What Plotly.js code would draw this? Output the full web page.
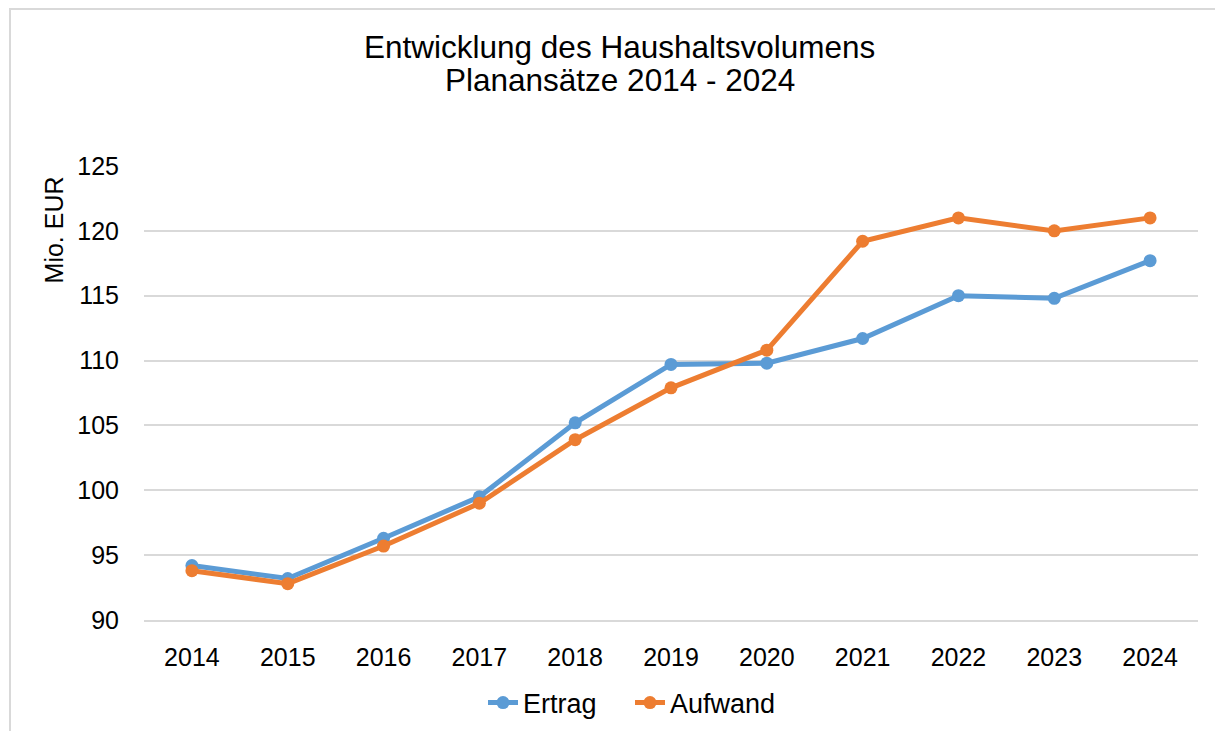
<!DOCTYPE html>
<html>
<head>
<meta charset="utf-8">
<script src="https://cdn.plot.ly/plotly-3.0.1.min.js"></script>
<style>
  html, body { margin: 0; padding: 0; background: #ffffff; }
  #chart { width: 1215px; height: 731px; position: relative; }
  #frame { position: absolute; left: 9px; top: 8px; width: 1220px; height: 740px;
           border: 2px solid #d9d9d9; pointer-events: none; box-sizing: border-box; }
  #wrap { position: relative; width: 1215px; height: 731px; overflow: hidden; }
</style>
</head>
<body>
<div id="wrap">
  <div id="chart"></div>
  <div id="frame"></div>
</div>
<script>
const years = ['2014','2015','2016','2017','2018','2019','2020','2021','2022','2023','2024'];
const ertrag = [94.2, 93.2, 96.3, 99.5, 105.2, 109.7, 109.8, 111.7, 115.0, 114.8, 117.7];
const aufwand = [93.8, 92.8, 95.7, 99.0, 103.9, 107.9, 110.8, 119.2, 121.0, 120.0, 121.0];
const yTicks = [90, 95, 100, 105, 110, 115, 120, 125];
const titleLine1 = 'Entwicklung des Haushaltsvolumens';
const titleLine2 = 'Planansätze 2014 - 2024';

const font = 'Liberation Sans, Arial, sans-serif';

const traces = [
  { x: years, y: ertrag, name: 'Ertrag', type: 'scatter', mode: 'lines+markers',
    line: { color: '#5B9BD5', width: 5 }, marker: { color: '#5B9BD5', size: 13 } },
  { x: years, y: aufwand, name: 'Aufwand', type: 'scatter', mode: 'lines+markers',
    line: { color: '#ED7D31', width: 5 }, marker: { color: '#ED7D31', size: 13 } }
];

const layout = {
  width: 1215, height: 731,
  margin: { l: 144, r: 17, t: 166, b: 111, autoexpand: false },
  paper_bgcolor: '#ffffff', plot_bgcolor: '#ffffff',
  font: { family: font, size: 25, color: '#000000' },
  title: { text: titleLine1,
           font: { family: font, size: 31.5, color: '#000000' },
           x: 0.51, xanchor: 'center', y: 1 - 47 / 731, yanchor: 'middle', yref: 'container' },
  xaxis: { type: 'category', range: [-0.5, 10.5], showgrid: false, zeroline: false,
           showline: true, linecolor: '#d9d9d9', linewidth: 2,
           tickfont: { size: 25 }, ticks: '', ticklabelstandoff: 14, fixedrange: true, automargin: false },
  yaxis: { range: [90, 125], tickvals: yTicks, showgrid: true, gridcolor: '#d9d9d9', gridwidth: 2,
           zeroline: false, showline: false, ticks: '', tickfont: { size: 25 },
           ticklabelstandoff: 24, fixedrange: true, automargin: false },
  annotations: [
    { text: titleLine2, xref: 'paper', yref: 'paper', x: (619.5 - 144) / 1054, y: 1 + (166 - 80) / 454,
      xanchor: 'center', yanchor: 'middle', showarrow: false,
      font: { family: font, size: 31.5, color: '#000000' } },
    { text: 'Mio. EUR', xref: 'paper', yref: 'paper', x: -0.085, y: 0.859,
      xanchor: 'center', yanchor: 'middle', textangle: -90, showarrow: false,
      font: { family: font, size: 25, color: '#000000' } }
  ],
  legend: { orientation: 'h', x: (630 - 144) / 1054, xanchor: 'center', y: -(703 - 620) / 454, yanchor: 'middle',
            font: { size: 27 }, bgcolor: 'rgba(0,0,0,0)', itemwidth: 30, entrywidth: 102 },
  showlegend: true
};

Plotly.newPlot('chart', traces, layout, { displayModeBar: false, staticPlot: true });
</script>
</body>
</html>
